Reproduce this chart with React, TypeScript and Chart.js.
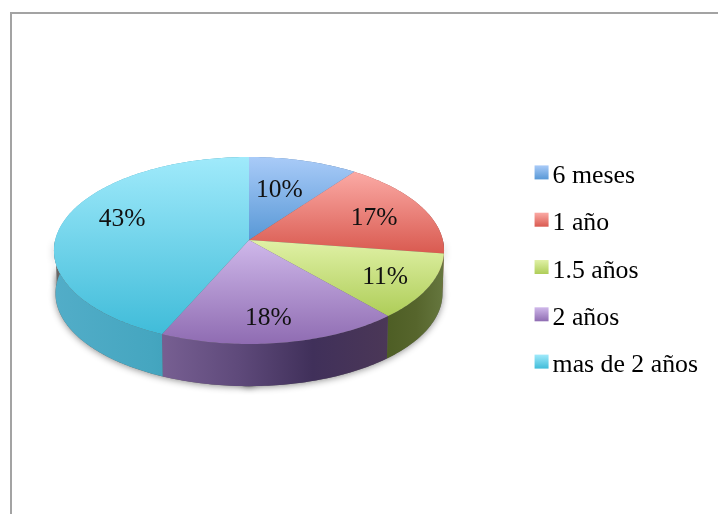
import React, { useEffect, useRef } from "react";
import { Chart, registerables } from "chart.js";

Chart.register(...registerables);

const categories = ["6 meses", "1 año", "1.5 años", "2 años", "mas de 2 años"];
const values = [10.1, 17.2, 11.3, 18.0, 43.4];
const baseColors = ["#7fb0e8", "#ea7f78", "#c6e07f", "#ab8fd0", "#6fd4ea"];
const topGradients = [
  ["#a9cbf8", "#5898d6"],
  ["#fbaaa5", "#d95a50"],
  ["#e0f1a6", "#aecd58"],
  ["#cfb8ea", "#8f6cb2"],
  ["#a0eafb", "#40bcd9"],
];
const wallGradients = [
  ["#5d86b8", "#4a6d99"],
  ["#a65049", "#8c4540"],
  ["#4e5e25", "#56652c", "#66773f"],
  ["#775f92", "#5f4a7b", "#40305a", "#4b3757"],
  ["#52adc8", "#45a6c0", "#2e94aa"],
];

const FONT = '"Liberation Serif", serif';
const LABEL_SIZE = 25.5;
const GEOM = { cx: 249, cy: 240, a: 92.3, b: 193.8, k: -0.1123, depth: 43, shrink: 0.992 };
const LABEL_RADIUS = 0.68;
const LABEL_NUDGE = [[-8, 6], [7, 2], [16, 6], [-2, 11], [0, -8]];
const SWATCH = 14;

// Perspective projection of a point of the unit disc onto the screen.
function project(angle: number, r = 1, lower = false) {
  const t = angle + Math.PI / 2;
  const u = Math.sin(t) * r;
  const v = -Math.cos(t) * r;
  const w = 1 + GEOM.k * v;
  const s = lower ? GEOM.shrink : 1;
  return {
    x: GEOM.cx + (GEOM.b * u * s) / w,
    y: GEOM.cy + (GEOM.a * v * s) / w + (lower ? GEOM.depth : 0),
  };
}

function rim(start: number, end: number, lower = false) {
  const n = Math.max(2, Math.ceil(((end - start) * 180) / Math.PI));
  const pts = [];
  for (let i = 0; i <= n; i++) pts.push(project(start + ((end - start) * i) / n, 1, lower));
  return pts;
}

function trace(ctx: CanvasRenderingContext2D, pts: { x: number; y: number }[]) {
  pts.forEach((p, i) => (i ? ctx.lineTo(p.x, p.y) : ctx.moveTo(p.x, p.y)));
}

const pie3d = {
  id: "pie3d",
  beforeDraw(chart: any) {
    const ctx = chart.ctx;
    ctx.save();
    ctx.fillStyle = "#ffffff";
    ctx.fillRect(0, 0, chart.width, chart.height);
    ctx.fillStyle = "#a3a3a3";
    ctx.fillRect(10, 12, chart.width - 10, 2);
    ctx.fillRect(10, 12, 2, chart.height - 12);
    ctx.restore();
  },
  beforeDatasetsDraw(chart: any) {
    const ctx: CanvasRenderingContext2D = chart.ctx;
    const arcs = chart.getDatasetMeta(0).data;
    ctx.save();
    // soft shadow below the whole solid
    ctx.save();
    ctx.shadowColor = "rgba(0,0,0,0.45)";
    ctx.shadowBlur = 7;
    ctx.shadowOffsetY = 1;
    ctx.fillStyle = "#666";
    ctx.beginPath();
    trace(ctx, rim(0, Math.PI * 2, true));
    ctx.closePath();
    ctx.fill();
    ctx.beginPath();
    trace(ctx, rim(0, Math.PI, false).concat(rim(Math.PI, 0, true)));
    ctx.closePath();
    ctx.fill();
    ctx.restore();
    // walls
    arcs.forEach((arc: any, i: number) => {
      const top = rim(arc.startAngle, arc.endAngle);
      const bottom = rim(arc.startAngle, arc.endAngle, true).reverse();
      const xs = top.map((p) => p.x);
      const g = ctx.createLinearGradient(Math.min(...xs), 0, Math.max(...xs), 0);
      const stops = wallGradients[i];
      stops.forEach((c, j) => g.addColorStop(j / (stops.length - 1), c));
      ctx.fillStyle = g;
      ctx.beginPath();
      trace(ctx, top.concat(bottom));
      ctx.closePath();
      ctx.fill();
    });
    // top faces
    arcs.forEach((arc: any, i: number) => {
      const pts = [project(0, 0)].concat(rim(arc.startAngle, arc.endAngle));
      const ys = pts.map((p) => p.y);
      const g = ctx.createLinearGradient(0, Math.min(...ys), 0, Math.max(...ys));
      g.addColorStop(0, topGradients[i][0]);
      g.addColorStop(1, topGradients[i][1]);
      ctx.fillStyle = g;
      ctx.beginPath();
      trace(ctx, pts);
      ctx.closePath();
      ctx.fill();
    });
    // percentage labels
    ctx.fillStyle = "#111";
    ctx.font = `${LABEL_SIZE}px ${FONT}`;
    ctx.textAlign = "center";
    ctx.textBaseline = "middle";
    const total = values.reduce((s, v) => s + v, 0);
    arcs.forEach((arc: any, i: number) => {
      const p = project((arc.startAngle + arc.endAngle) / 2, LABEL_RADIUS);
      const label = `${Math.round((values[i] / total) * 100)}%`;
      ctx.fillText(label, p.x + LABEL_NUDGE[i][0], p.y + LABEL_NUDGE[i][1]);
    });
    ctx.restore();
    return false;
  },
  afterDraw(chart: any) {
    const ctx: CanvasRenderingContext2D = chart.ctx;
    const boxes = chart.legend.legendHitBoxes;
    ctx.save();
    boxes.forEach((b: any, i: number) => {
      const y = b.top + (b.height - SWATCH) / 2 - 4;
      const g = ctx.createLinearGradient(0, y, 0, y + SWATCH);
      g.addColorStop(0, topGradients[i][0]);
      g.addColorStop(1, topGradients[i][1]);
      ctx.fillStyle = g;
      ctx.fillRect(b.left, y, SWATCH, SWATCH);
    });
    ctx.restore();
  },
};

export default function App() {
  const ref = useRef<HTMLCanvasElement>(null);
  useEffect(() => {
    const chart = new Chart(ref.current as HTMLCanvasElement, {
      type: "pie",
      data: {
        labels: categories,
        datasets: [{ data: values, backgroundColor: baseColors, borderWidth: 0 }],
      },
      options: {
        responsive: false,
        animation: false,
        devicePixelRatio: 1,
        layout: { padding: { top: 28, right: 10 } },
        plugins: {
          tooltip: { enabled: false },
          title: { display: false },
          legend: {
            display: true,
            position: "right",
            labels: {
              boxWidth: 5.1,
              boxHeight: 14,
              padding: 21.5,
              color: "#111",
              font: { family: FONT, size: 25.8 },
              generateLabels: () =>
                categories.map((text, index) => ({
                  text,
                  index,
                  fillStyle: "rgba(0,0,0,0)",
                  strokeStyle: "rgba(0,0,0,0)",
                  lineWidth: 0,
                  hidden: false,
                })),
            },
          },
        },
      } as any,
      plugins: [pie3d as any],
    });
    return () => chart.destroy();
  }, []);
  return (
    <canvas
      ref={ref}
      width={718}
      height={514}
      style={{ position: "fixed", left: 0, top: 0, display: "block" }}
    />
  );
}
